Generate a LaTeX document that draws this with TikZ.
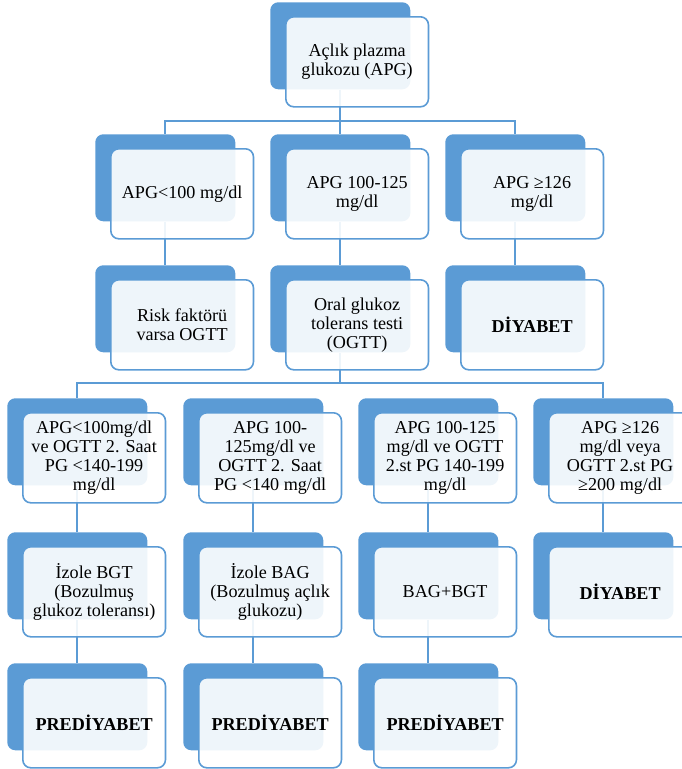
\documentclass[tikz,border=0pt]{standalone}
\usepackage{fontspec}
\setmainfont{Liberation Serif}
\definecolor{obl}{HTML}{5B9BD5}
\tikzset{
 back/.style={fill=obl, rounded corners=6pt, minimum width=105pt, minimum height=65.25pt, anchor=north west, inner sep=0pt},
 front/.style={fill=white, fill opacity=0.9, text opacity=1, draw=obl, line width=1.2pt, rounded corners=6pt, minimum width=107pt, minimum height=67.5pt, anchor=north west, align=center, font=\fontsize{13.6}{14.2}\selectfont, inner sep=2pt},
 boldtxt/.style={font=\fontsize{13.6}{14.2}\selectfont\bfseries},
 conn/.style={draw=obl, line width=1.4pt}
}
\newcommand\bk[3]{\node[back] (#1-d) at (#2,#3) {};}
\newcommand\fr[5][]{\node[front,#1] (#2) at ({#3+15},{#4+14}) {#5};}
\begin{document}
\begin{tikzpicture}[x=0.75pt,y=-0.75pt]
\useasboundingbox (0,0) rectangle (682,769);
\clip (0,0) rectangle (682,769);
% back boxes
\bk{top}{270}{2}
\bk{r2a}{95}{134}\bk{r2b}{270}{134}\bk{r2c}{445}{134}
\bk{r3a}{95}{265}\bk{r3b}{270}{265}\bk{r3c}{445}{265}
\bk{r4a}{7}{398}\bk{r4b}{183}{398}\bk{r4c}{358}{398}\bk{r4d}{533}{398}
\bk{r5a}{7}{532}\bk{r5b}{183}{532}\bk{r5c}{358}{532}\bk{r5d}{533}{532}
\bk{r6a}{7}{663}\bk{r6b}{183}{663}\bk{r6c}{358}{663}
% connectors
\coordinate (bus1) at (0,121);
\coordinate (bus2) at (0,383);
\draw[conn] (r2a-d.north) |- (bus1 -| r2c-d.north) -- (r2c-d.north);
\draw[conn] (top-d.south) -- (r2b-d.north);
\draw[conn] (r2a-d.south) -- (r3a-d.north);
\draw[conn] (r2b-d.south) -- (r3b-d.north);
\draw[conn] (r2c-d.south) -- (r3c-d.north);
\draw[conn] (r4a-d.north) |- (bus2 -| r4d-d.north) -- (r4d-d.north);
\draw[conn] (r3b-d.south) -- (r3b-d.south |- bus2);
\draw[conn] (r4a-d.south) -- (r5a-d.north);
\draw[conn] (r4b-d.south) -- (r5b-d.north);
\draw[conn] (r4c-d.south) -- (r5c-d.north);
\draw[conn] (r4d-d.south) -- (r5d-d.north);
\draw[conn] (r5a-d.south) -- (r6a-d.north);
\draw[conn] (r5b-d.south) -- (r6b-d.north);
\draw[conn] (r5c-d.south) -- (r6c-d.north);
% front boxes
\fr{top}{270}{2}{Açlık plazma\\glukozu (APG)}
\fr{r2a}{95}{134}{APG<100 mg/dl}
\fr{r2b}{270}{134}{APG 100-125\\mg/dl}
\fr{r2c}{445}{134}{APG ≥126\\mg/dl}
\fr{r3a}{95}{265}{Risk faktörü\\varsa OGTT}
\fr{r3b}{270}{265}{Oral glukoz\\tolerans testi\\(OGTT)}
\fr[boldtxt]{r3c}{445}{265}{DİYABET}
\fr{r4a}{7}{398}{APG<100mg/dl\\ve OGTT 2. Saat\\PG <140-199\\mg/dl}
\fr{r4b}{183}{398}{APG 100-\\125mg/dl ve\\OGTT 2. Saat\\PG <140 mg/dl}
\fr{r4c}{358}{398}{APG 100-125\\mg/dl ve OGTT\\2.st PG 140-199\\mg/dl}
\fr{r4d}{533}{398}{APG ≥126\\mg/dl veya\\OGTT 2.st PG\\≥200 mg/dl}
\fr{r5a}{7}{532}{İzole BGT\\(Bozulmuş\\glukoz toleransı)}
\fr{r5b}{183}{532}{İzole BAG\\(Bozulmuş açlık\\glukozu)}
\fr{r5c}{358}{532}{BAG+BGT}
\fr[boldtxt]{r5d}{533}{532}{DİYABET}
\fr[boldtxt]{r6a}{7}{663}{PREDİYABET}
\fr[boldtxt]{r6b}{183}{663}{PREDİYABET}
\fr[boldtxt]{r6c}{358}{663}{PREDİYABET}
\end{tikzpicture}
\end{document}
